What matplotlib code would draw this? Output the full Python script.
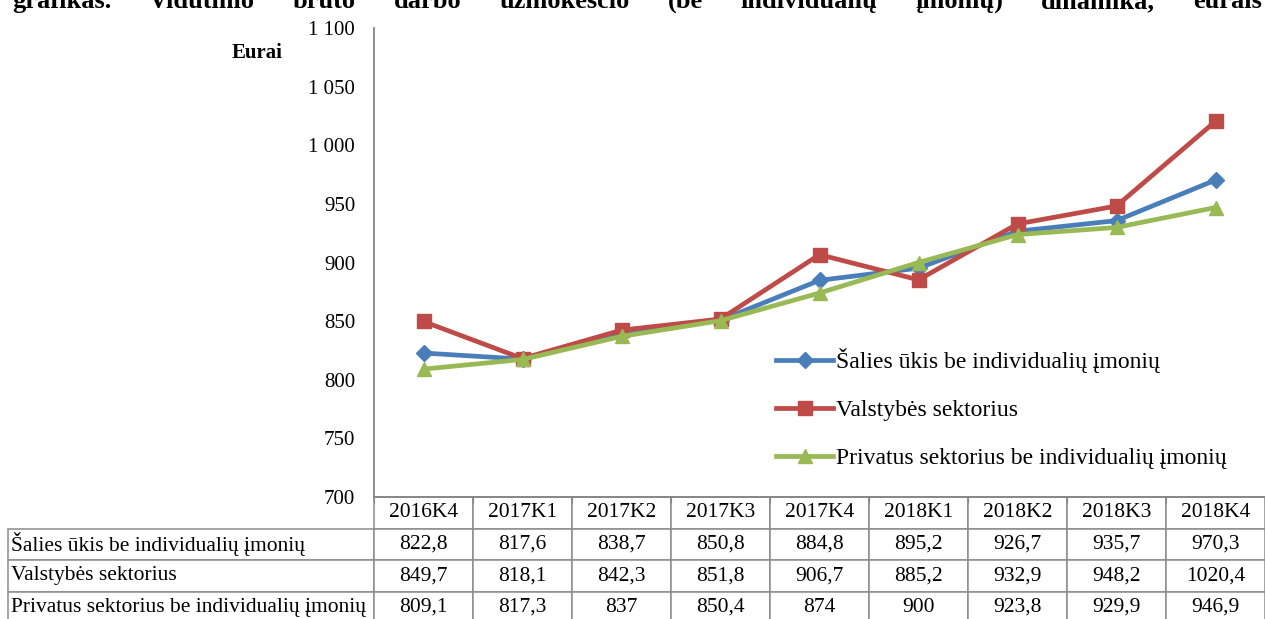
import numpy as np
import matplotlib
matplotlib.use('Agg')
import matplotlib.pyplot as plt
from matplotlib.ticker import FuncFormatter, MultipleLocator, FixedLocator
from matplotlib.lines import Line2D

plt.rcParams['font.family'] = ['Liberation Serif', 'DejaVu Serif']

quarters = ['2016K4', '2017K1', '2017K2', '2017K3', '2017K4',
            '2018K1', '2018K2', '2018K3', '2018K4']
salies = [822.8, 817.6, 838.7, 850.8, 884.8, 895.2, 926.7, 935.7, 970.3]
valstybes = [849.7, 818.1, 842.3, 851.8, 906.7, 885.2, 932.9, 948.2, 1020.4]
privatus = [809.1, 817.3, 837, 850.4, 874, 900, 923.8, 929.9, 946.9]
series_names = ['Šalies ūkis be individualių įmonių',
                'Valstybės sektorius',
                'Privatus sektorius be individualių įmonių']

# caption line, cut off at the top edge in the source (justified)
caption_words = ['grafikas.', 'Vidutinio', 'bruto', 'darbo', 'užmokesčio',
                 '(be', 'individualių', 'įmonių)', 'dinamika,', 'eurais']

W, H = 1265, 619
fig = plt.figure(figsize=(W / 100, H / 100), dpi=100)
ax = fig.add_axes([374 / W, 1 - 497 / H, 891 / W, 469 / H])

x = np.arange(len(quarters))
colors = ['#4A7EBB', '#BE4B48', '#98B954']
markers = ['D', 's', '^']
msizes = [8, 10, 10]
for vals, c, m, ms in zip([salies, valstybes, privatus], colors, markers, msizes):
    ax.plot(x, vals, color=c, lw=3.4, marker=m, ms=ms, mec=c, mfc=c,
            solid_capstyle='round', clip_on=False, zorder=3)

ax.set_xlim(-0.5, len(quarters) - 0.5)
ax.set_ylim(700, 1100)
ax.yaxis.set_major_locator(MultipleLocator(50))
ax.yaxis.set_major_formatter(FuncFormatter(lambda v, p: f'{v:,.0f}'.replace(',', ' ')))
ax.tick_params(axis='y', length=0, pad=13.5, labelsize=15)
ax.xaxis.set_major_locator(FixedLocator(np.arange(-0.5, len(quarters), 1)))
ax.tick_params(axis='x', length=4, color='#868686', labelbottom=False)
for s in ['top', 'right']:
    ax.spines[s].set_visible(False)
for s in ['left', 'bottom']:
    ax.spines[s].set_color('#868686')
    ax.spines[s].set_linewidth(1.3)

fig.text(232 / W, 1 - 53 / H, 'Eurai', fontsize=15, fontweight='bold',
         ha='left', va='center')

# legend
handles = [Line2D([], [], color=c, lw=3.4, marker=m, ms=ms, mec=c, mfc=c)
           for c, m, ms in zip(colors, markers, msizes)]
ax.legend(handles, series_names, loc='upper left',
          bbox_to_anchor=((767 - 374) / 891, (497 - 339) / 469),
          frameon=False, fontsize=17, handlelength=2.4, handletextpad=0.12,
          labelspacing=1.12, borderaxespad=0)

# data table
def fmt(v):
    return f'{v:g}'.replace('.', ',')

rows = [[''] + quarters]
for name, vals in zip(series_names, [salies, valstybes, privatus]):
    rows.append([name] + [fmt(v) for v in vals])

label_w = 366
col_w = 99
tbl = ax.table(cellText=rows,
               colWidths=[label_w] + [col_w] * len(quarters),
               bbox=[(8 - 374) / 891, -126 / 469, (label_w + col_w * 9) / 891, 126 / 469],
               cellLoc='center')
tbl.auto_set_font_size(False)
tbl.set_fontsize(15.5)
for (r, c), cell in tbl.get_celld().items():
    cell.set_edgecolor('#8c8c8c')
    cell.set_linewidth(1.1)
    if c == 0:
        cell.get_text().set_ha('left')
        cell.PAD = 0.008
    if r == 0 and c == 0:
        cell.set_edgecolor('none')

# justified caption words between x=12 and x=1262
texts = [fig.text(0, 1 - 8 / H, w, fontsize=19, fontweight='bold',
                  ha='left', va='baseline') for w in caption_words]
renderer = fig.canvas.get_renderer()
widths = [t.get_window_extent(renderer).width for t in texts]
gap = (1262 - 12 - sum(widths)) / (len(texts) - 1)
xpos = 12
for t, wd in zip(texts, widths):
    t.set_x(xpos / W)
    xpos += wd + gap

fig.savefig('out.png', dpi=100)
